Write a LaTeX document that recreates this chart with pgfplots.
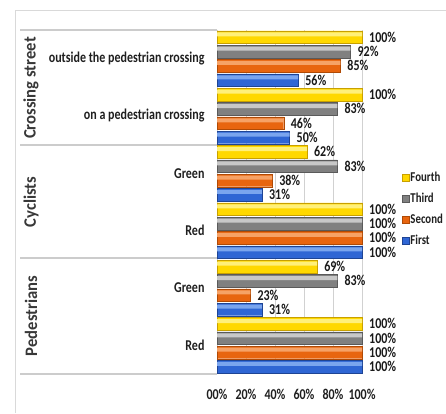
\documentclass[border=0pt]{standalone}
\usepackage{pgfplots}
\pgfplotsset{compat=1.18}
\usepackage{fontspec}
\setmainfont{Carlito}[FakeStretch=0.8]
\newfontfamily\grpfont{Carlito}[FakeStretch=0.95]
\definecolor{yelH}{HTML}{FFF07A}
\definecolor{yelM}{HTML}{FFD800}
\definecolor{yelB}{HTML}{C8A000}
\definecolor{gryH}{HTML}{C8C8C8}
\definecolor{gryM}{HTML}{808080}
\definecolor{gryB}{HTML}{5A5A5A}
\definecolor{orgH}{HTML}{F6A266}
\definecolor{orgM}{HTML}{E8650F}
\definecolor{orgB}{HTML}{B04A05}
\definecolor{bluH}{HTML}{7AA5EE}
\definecolor{bluM}{HTML}{2F66D4}
\definecolor{bluB}{HTML}{1E4494}
\pgfplotstableread{
y first second third fourth
0 100 100 100 100
1 31 23 83 69
2 100 100 100 100
3 31 38 83 62
4 50 46 83 100
5 56 85 92 100
}\datatab
\begin{document}
\begin{tikzpicture}
\useasboundingbox (0pt,0pt) rectangle (446pt,413pt);
\draw[black!15, line width=0.8pt] (15pt,0pt) -- (15pt,403pt) -- (446pt,403pt);
\foreach \yy in {383,268,155,39} \draw[black!20, line width=1.2pt] (20pt,\yy pt) -- (217pt,\yy pt);
\begin{axis}[
  at={(217pt,39pt)}, anchor=south west, scale only axis,
  width=145pt, height=344pt,
  xmin=0, xmax=100, ymin=-0.5, ymax=5.5,
  xbar, bar width=12.5pt,
  axis line style={draw=none}, major tick length=0pt,
  xtick={0,20,40,60,80,100},
  xticklabels={00\%,20\%,40\%,60\%,80\%,100\%},
  ytick={0,1,2,3,4,5},
  yticklabels={Red,Green,Red,Green,on a pedestrian crossing,outside the pedestrian crossing},
  xmajorgrids, grid style={black!18, line width=0.8pt},
  tick label style={font=\bfseries\fontsize{15}{17}\selectfont, text=black!88},
  xticklabel style={yshift=-12pt},
  yticklabel style={xshift=-9pt},
  /pgf/number format/assume math mode=true,
  nodes near coords style={font=\bfseries\fontsize{15}{17}\selectfont, text=black!90, anchor=west, inner sep=0pt, xshift=7pt},
  clip=false,
  reverse legend,
  legend cell align=left,
  legend style={at={(axis description cs:1.275,0.59)}, anchor=north west,
    draw=none, fill=none, font=\bfseries\fontsize{13.5}{16}\selectfont, text=black!88,
    row sep=8pt, inner sep=0pt, nodes={inner sep=1pt}},
  legend image code/.code={\fill[#1] (0pt,-3.5pt) rectangle (7pt,3.5pt);},
  hl/.style={draw=none, bar width=4pt, forget plot},
]
\addplot[bar shift=-21.45pt, draw=bluB, line width=0.4pt, fill=bluM,
  nodes near coords={\pgfmathprintnumber{\pgfplotspointmeta}\%}]
  table[x=first, y=y] {\datatab};
\addplot[bar shift=-7.15pt, draw=orgB, line width=0.4pt, fill=orgM,
  nodes near coords={\pgfmathprintnumber{\pgfplotspointmeta}\%}]
  table[x=second, y=y] {\datatab};
\addplot[bar shift=7.15pt, draw=gryB, line width=0.4pt, fill=gryM,
  nodes near coords={\pgfmathprintnumber{\pgfplotspointmeta}\%}]
  table[x=third, y=y] {\datatab};
\addplot[bar shift=21.45pt, draw=yelB, line width=0.4pt, fill=yelM,
  nodes near coords={\pgfmathprintnumber{\pgfplotspointmeta}\%}]
  table[x=fourth, y=y] {\datatab};
\addplot[hl, fill=bluH, bar shift=-18.6pt] table[x=first, y=y] {\datatab};
\addplot[hl, fill=orgH, bar shift=-4.3pt] table[x=second, y=y] {\datatab};
\addplot[hl, fill=gryH, bar shift=10.0pt] table[x=third, y=y] {\datatab};
\addplot[hl, fill=yelH, bar shift=24.3pt] table[x=fourth, y=y] {\datatab};
\legend{First,Second,Third,Fourth}
\end{axis}
\node[rotate=90, font=\grpfont\bfseries\fontsize{17.5}{19}\selectfont, text=black!78] at (31pt,325pt) {Crossing street};
\node[rotate=90, font=\grpfont\bfseries\fontsize{17.5}{19}\selectfont, text=black!78] at (31pt,211pt) {Cyclists};
\node[rotate=90, font=\grpfont\bfseries\fontsize{17.5}{19}\selectfont, text=black!78] at (31pt,97pt) {Pedestrians};
\end{tikzpicture}
\end{document}
